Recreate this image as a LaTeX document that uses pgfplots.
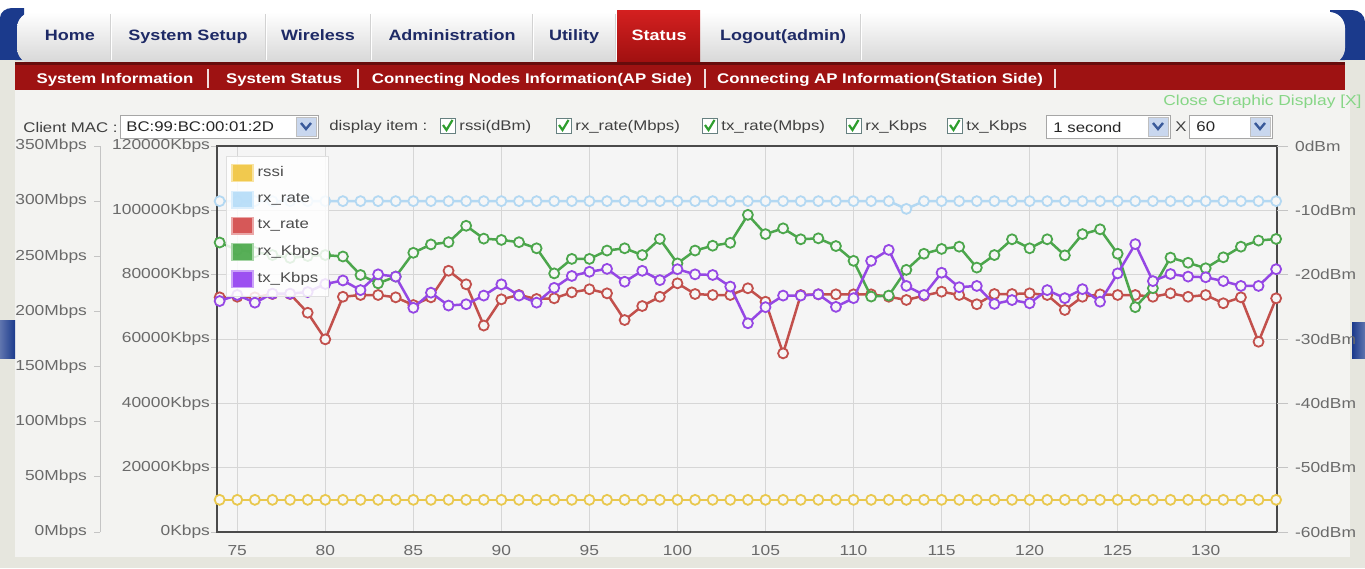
\documentclass[border=0pt]{standalone}
\usepackage{pgfplots}
\pgfplotsset{compat=1.18}
\usepackage{pgfplotstable}
\usepackage{fontspec}
\setmainfont{Liberation Sans}
\newfontfamily\ui{Liberation Sans}[FakeStretch=1.2]

\definecolor{sidebg}{HTML}{E6E6DE}
\definecolor{panelbg}{HTML}{F3F3F1}
\definecolor{plotbg}{HTML}{F5F5F5}
\definecolor{framec}{HTML}{4A4A4A}
\definecolor{gridc}{HTML}{D6D6D6}
\definecolor{tickc}{HTML}{C4C4C4}
\definecolor{labelc}{HTML}{6A6A6A}
\definecolor{navy}{HTML}{1B3A8C}
\definecolor{navytext}{HTML}{1E2A66}
\definecolor{tabgray}{HTML}{D6D6D6}
\definecolor{redbar}{HTML}{9E1212}
\definecolor{statusTop}{HTML}{D42020}
\definecolor{statusBot}{HTML}{A01010}
\definecolor{closegreen}{HTML}{86D686}
\definecolor{rssiC}{HTML}{E9C84E}
\definecolor{rxrC}{HTML}{B3D8F2}
\definecolor{txrC}{HTML}{C2504C}
\definecolor{rxkC}{HTML}{4CA64C}
\definecolor{txkC}{HTML}{9547E4}
\definecolor{rssiS}{HTML}{F0C030}
\definecolor{rxrS}{HTML}{B0DAF8}
\definecolor{txrS}{HTML}{D03C3C}
\definecolor{rxkS}{HTML}{3CA23C}
\definecolor{txkS}{HTML}{8C32F0}
\definecolor{markfill}{HTML}{F6F6F6}
\definecolor{chk}{HTML}{2E9E2E}
\definecolor{arrowbg}{HTML}{C9D7EE}
\definecolor{arrowfg}{HTML}{3A5A9A}

\newcommand\tabfont{\ui\bfseries\fontsize{7.5}{9}\selectfont}
\newcommand\barfont{\ui\bfseries\fontsize{7}{8.5}\selectfont}
\newcommand\rowfont{\ui\fontsize{7}{8.5}\selectfont}
\newcommand\lblfont{\ui\fontsize{7.25}{8.5}\selectfont}

\pgfplotsset{
  ser/.style={line width=1.25pt, color=#1, mark=*, mark size=2.5pt,
    mark options={fill=markfill, draw=#1, line width=0.9pt}},
}

\pgfplotstableread{
x rxk txk
74 90000 71800
75 87700 73700
76 87000 71300
77 86100 74100
78 85200 74100
79 85800 74600
80 86100 77100
81 85650 78200
82 79900 75200
83 77300 80100
84 79400 79400
85 86800 69700
86 89400 74400
87 90100 70400
88 95200 70800
89 91200 73500
90 90800 77000
91 90100 73500
92 88200 71300
93 80400 75900
94 84900 79600
95 84900 80900
96 87500 81800
97 88200 77800
98 86100 81200
99 91100 78300
100 83500 81700
101 87500 80100
102 89000 79900
103 89900 76300
104 98600 64900
105 92600 69900
106 94400 73500
107 91000 73500
108 91300 73900
109 88900 70000
110 84300 72700
111 73200 84300
112 73500 87700
113 81500 76500
114 86500 73700
115 88000 80600
116 88700 76100
117 82200 76500
118 86100 70900
119 91000 72100
120 88200 71100
121 91000 75200
122 86000 72700
123 92600 75500
124 94100 71600
125 86500 80400
126 69900 89500
127 75800 78000
128 85300 80200
129 83700 79400
130 82000 79200
131 85400 78000
132 88700 76500
133 90600 76500
134 91100 81700
}\kbpsdata

\pgfplotstableread{
x rxr txr
74 300 212.8
75 300 213.3
76 300 212.8
77 300 215.8
78 300 215.8
79 300 198.8
80 300 174.7
81 300 213.3
82 300 214.9
83 300 214.9
84 300 212.8
85 300 205.8
86 300 212.8
87 300 236.9
88 300 224.6
89 300 187.2
90 300 211.0
91 300 214.9
92 300 211.3
93 300 211.9
94 300 217.3
95 300 220.1
96 300 216.4
97 300 192.2
98 300 204.9
99 300 213.3
100 300 225.5
101 300 215.8
102 300 214.9
103 300 214.9
104 300 221.0
105 300 208.8
106 300 162.0
107 300 214.9
108 300 215.5
109 300 215.5
110 300 215.5
111 300 215.5
112 300 213.3
113 293 210.4
114 300 214.3
115 300 217.9
116 300 214.9
117 300 206.5
118 300 215.8
119 300 215.8
120 300 216.4
121 300 214.9
122 300 201.3
123 300 213.3
124 300 215.5
125 300 214.9
126 300 214.9
127 300 213.3
128 300 216.4
129 300 213.3
130 300 214.9
131 300 207.4
132 300 212.8
133 300 172.5
134 300 211.9
}\mbpsdata

\pgfplotstableread{
x rssi
74 -55
75 -55
76 -55
77 -55
78 -55
79 -55
80 -55
81 -55
82 -55
83 -55
84 -55
85 -55
86 -55
87 -55
88 -55
89 -55
90 -55
91 -55
92 -55
93 -55
94 -55
95 -55
96 -55
97 -55
98 -55
99 -55
100 -55
101 -55
102 -55
103 -55
104 -55
105 -55
106 -55
107 -55
108 -55
109 -55
110 -55
111 -55
112 -55
113 -55
114 -55
115 -55
116 -55
117 -55
118 -55
119 -55
120 -55
121 -55
122 -55
123 -55
124 -55
125 -55
126 -55
127 -55
128 -55
129 -55
130 -55
131 -55
132 -55
133 -55
134 -55
}\dbmdata

\begin{document}
\begin{tikzpicture}
\useasboundingbox (0,0) rectangle (682.5pt,-284pt);
\begin{scope}[x=0.5pt,y=-0.5pt]
  % backgrounds
  \fill[white] (0,0) rectangle (1365,568);
  \fill[sidebg] (0,60) rectangle (1365,568);
  \fill[panelbg] (15,90) rectangle (1350,557);
  % blue side pieces
  \fill[navy] (0,18) to[out=90,in=180] (12,8) -- (24,8) -- (24,60) -- (0,60) -- cycle;
  \fill[navy] (1330,10) -- (1352,10) to[out=0,in=90] (1365,22) -- (1365,60) -- (1330,60) -- cycle;
  \shade[top color=white, bottom color=tabgray, rounded corners=8pt] (17,12) rectangle (1345,64);
  \fill[sidebg] (0,60) rectangle (15,64);
  \fill[sidebg] (1345,60) rectangle (1365,64);
  \shade[left color=navy!70!white, right color=navy] (0,320) rectangle (15,358);
  \shade[right color=navy!70!white, left color=navy] (1352,322) rectangle (1365,358);
  % tab separators
  \foreach \sx in {110,265,370,532,615,860}
    {\draw[gray!35, line width=0.5pt] (\sx,14) -- (\sx,60);
     \draw[white, line width=0.5pt] (\sx+1.5,14) -- (\sx+1.5,60);}
  % status tab
  \shade[top color=statusTop, bottom color=statusBot] (617,10) rectangle (700,62);
  % red bar
  \fill[redbar] (15,62) rectangle (1345,90);
  \fill[black!35!redbar] (15,62) rectangle (1345,65);
  % tab texts
  \begin{scope}[every node/.style={anchor=base, inner sep=0pt, font=\tabfont, text=navytext}]
  \node at (70,40) {Home};
  \node at (188,40) {System Setup};
  \node at (318,40) {Wireless};
  \node at (452,40) {Administration};
  \node at (574,40) {Utility};
  \node[text=white] at (659,40) {Status};
  \node at (783,40) {Logout(admin)};
  \end{scope}
  % red bar texts
  \begin{scope}[every node/.style={anchor=base, inner sep=0pt, font=\barfont, text=white}]
  \node at (115,83) {System Information};
  \node at (284,83) {System Status};
  \node at (532,83) {Connecting Nodes Information(AP Side)};
  \node at (880,83) {Connecting AP Information(Station Side)};
  \end{scope}
  \foreach \sx in {208,358,705,1055}
    \draw[white!85!redbar, line width=0.6pt] (\sx,69) -- (\sx,88);
  % close graphic
  \node[font=\ui\fontsize{7.25}{8.5}\selectfont, text=closegreen, anchor=base east, inner sep=0pt] at (1362,105) {Close Graphic Display [X]};
  % control row
  \node[font=\rowfont, text=black!75, anchor=west, inner sep=0pt] at (23,127) {Client MAC :};
  \draw[gray!70, fill=white, line width=0.5pt] (120,115) rectangle (318,138);
  \node[font=\rowfont, text=black!85, anchor=west, inner sep=0pt] at (126,127) {BC:99:BC:00:01:2D};
  \draw[gray!50, fill=arrowbg, line width=0.4pt] (296,117) rectangle (316,136);
  \draw[arrowfg, line width=1.2pt] (301,123) -- (306,129) -- (311,123);
  \node[font=\rowfont, text=black!75, anchor=west, inner sep=0pt] at (329,127) {display item :};
  \foreach \cx/\lab in {440/{rssi(dBm)},556/{rx\_rate(Mbps)},702/{tx\_rate(Mbps)},846/{rx\_Kbps},947/{tx\_Kbps}}
    {\draw[gray!80!teal, fill=white, line width=0.5pt] (\cx,118) rectangle (\cx+15,133);
     \draw[chk, line width=1.1pt] (\cx+3,125) -- (\cx+6.5,130) -- (\cx+12.5,120);
     \node[font=\rowfont, text=black!75, anchor=west, inner sep=0pt] at (\cx+19,127) {\lab};}
  \draw[gray!70, fill=white, line width=0.5pt] (1046,115) rectangle (1170,138);
  \node[font=\rowfont, text=black!85, anchor=west, inner sep=0pt] at (1053,127) {1 second};
  \draw[gray!50, fill=arrowbg, line width=0.4pt] (1148,117) rectangle (1168,136);
  \draw[arrowfg, line width=1.2pt] (1153,123) -- (1158,129) -- (1163,123);
  \node[font=\rowfont, text=black!75, anchor=center, inner sep=0pt] at (1181,127) {X};
  \draw[gray!70, fill=white, line width=0.5pt] (1189,115) rectangle (1272,138);
  \node[font=\rowfont, text=black!85, anchor=west, inner sep=0pt] at (1196,127) {60};
  \draw[gray!50, fill=arrowbg, line width=0.4pt] (1250,117) rectangle (1270,136);
  \draw[arrowfg, line width=1.2pt] (1255,123) -- (1260,129) -- (1265,123);
\end{scope}

% base axis: frame, grid, Kbps scale
\begin{axis}[
  at={(108.5pt,-266pt)}, anchor=south west, scale only axis,
  width=530pt, height=193pt,
  xmin=73.85, xmax=134.05, ymin=0, ymax=120000,
  axis background/.style={fill=plotbg},
  axis line style={draw=framec, line width=1.2pt},
  grid=major, grid style={draw=gridc, line width=0.5pt},
  xtick={75,80,85,90,95,100,105,110,115,120,125,130},
  xticklabels={75,80,85,90,95,100,105,110,115,120,125,130},
  ytick={0,20000,40000,60000,80000,100000,120000},
  yticklabels={0Kbps,20000Kbps,40000Kbps,60000Kbps,80000Kbps,100000Kbps,120000Kbps},
  scaled y ticks=false,
  xtick style={draw=none},
  ytick pos=left, tick align=outside, major tick length=3pt,
  ytick style={draw=tickc, line width=0.5pt},
  ticklabel style={font=\lblfont, text=labelc},
  yticklabel style={xshift=3pt},
]
\end{axis}

% rssi on dBm axis
\begin{axis}[
  at={(108.5pt,-266pt)}, anchor=south west, scale only axis,
  width=530pt, height=193pt,
  xmin=73.85, xmax=134.05, ymin=-60, ymax=0,
  hide x axis, axis y line*=right,
  y axis line style={draw=none},
  ytick={-60,-50,-40,-30,-20,-10,0},
  yticklabels={-60dBm,-50dBm,-40dBm,-30dBm,-20dBm,-10dBm,0dBm},
  tick align=outside, major tick length=5.5pt,
  ytick style={draw=tickc, line width=0.5pt},
  ticklabel style={font=\lblfont, text=labelc},
  clip=false,
]
\addplot[ser=rssiC] table[x=x, y=rssi] {\dbmdata};
\end{axis}

% Mbps data
\begin{axis}[
  at={(108.5pt,-266pt)}, anchor=south west, scale only axis,
  width=530pt, height=193pt,
  xmin=73.85, xmax=134.05, ymin=0, ymax=350,
  hide x axis, hide y axis, clip=false,
]
\addplot[ser=rxrC] table[x=x, y=rxr] {\mbpsdata};
\addplot[ser=txrC] table[x=x, y=txr] {\mbpsdata};
\end{axis}

% Kbps data + legend
\begin{axis}[
  at={(108.5pt,-266pt)}, anchor=south west, scale only axis,
  width=530pt, height=193pt,
  xmin=73.85, xmax=134.05, ymin=0, ymax=120000,
  hide x axis, hide y axis, clip=false,
  legend cell align=left,
  legend image code/.code={\draw[#1, line width=0.6pt] (0pt,-4.2pt) rectangle (10.5pt,4.2pt);},
  legend style={at={(axis description cs:0.0085,0.974)}, anchor=north west,
    draw=gray!25, fill=white, fill opacity=0.85, text opacity=1,
    font=\ui\fontsize{7}{8}\selectfont, text=black!70,
    inner xsep=2.5pt, inner ysep=3pt, row sep=3pt,
    /tikz/every even column/.append style={column sep=2pt}},
]
\addlegendimage{fill=rssiS, draw=rssiS!45!white}
\addlegendentry{rssi}
\addlegendimage{fill=rxrS, draw=rxrS!45!white}
\addlegendentry{rx\_rate}
\addlegendimage{fill=txrS, draw=txrS!45!white}
\addlegendentry{tx\_rate}
\addlegendimage{fill=rxkS, draw=rxkS!45!white}
\addlegendentry{rx\_Kbps}
\addlegendimage{fill=txkS, draw=txkS!45!white}
\addlegendentry{tx\_Kbps}
\addplot[ser=rxkC, forget plot] table[x=x, y=rxk] {\kbpsdata};
\addplot[ser=txkC, forget plot] table[x=x, y=txk] {\kbpsdata};
\end{axis}

% Mbps scale axis
\begin{axis}[
  at={(50pt,-266pt)}, anchor=south west, scale only axis,
  width=1pt, height=193pt,
  xmin=0, xmax=1, ymin=0, ymax=350,
  hide x axis, axis y line*=left,
  y axis line style={draw=tickc, line width=0.5pt},
  ytick={0,50,100,150,200,250,300,350},
  yticklabels={0Mbps,50Mbps,100Mbps,150Mbps,200Mbps,250Mbps,300Mbps,350Mbps},
  tick align=outside, major tick length=3pt,
  ytick style={draw=tickc, line width=0.5pt},
  ticklabel style={font=\lblfont, text=labelc},
]
\end{axis}
\end{tikzpicture}
\end{document}
